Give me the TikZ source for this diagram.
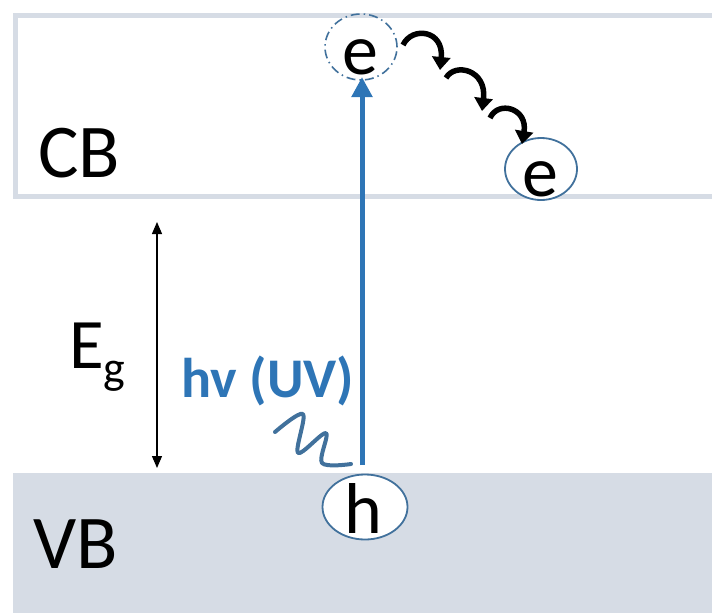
\documentclass[tikz,border=0pt]{standalone}
\usepackage{fontspec}
\setmainfont{Carlito}
\usetikzlibrary{shapes.geometric,arrows.meta}
\definecolor{bandgray}{HTML}{D6DCE5}
\definecolor{arrowblue}{HTML}{2E75B6}
\definecolor{edgeblue}{HTML}{41719C}
\tikzset{
  bigtext/.style={inner sep=0pt, anchor=base west, font=\fontsize{76}{76}\selectfont},
  lettertext/.style={inner sep=0pt, anchor=base, font=\fontsize{72}{72}\selectfont},
  particle/.style={ellipse, draw=edgeblue, line width=1.8pt, fill=white, inner sep=0pt},
  hop/.style={line width=5.5pt, -{Triangle[width=18pt,length=13pt]}},
}
\begin{document}
\begin{tikzpicture}[x=1pt,y=-1pt]
\useasboundingbox (0,0) rectangle (712,613);
% bands
\draw[bandgray, line width=5pt] (712,15) -- (15.5,15) -- (15.5,196) -- (712,196);
\fill[bandgray] (13,473) rectangle (712,613);
\node[bigtext] (cb) at (38,177) {CB};
\node[bigtext] (vb) at (33,568) {VB};
% band gap
\node[inner sep=0pt, anchor=base west, font=\fontsize{71}{71}\selectfont] (eg) at (69,368) {E\raisebox{-15pt}{\fontsize{46}{46}\selectfont g}};
\coordinate (egtop) at (157,222);
\coordinate (egbot) at (157,468);
\draw[line width=1.1pt, {Triangle[width=10pt,length=12pt]}-{Triangle[width=10pt,length=12pt]}] (egtop) -- (egbot);
% particles
\node[particle, minimum width=85pt, minimum height=65pt] (h) at (365,507) {};
\node[lettertext] (ht) at (363,533) {h};
\node[ellipse, draw=edgeblue, line width=1.6pt, dash pattern=on 9pt off 4pt on 1.5pt off 4pt, minimum width=72pt, minimum height=66pt, inner sep=0pt] (e1) at (361,47) {};
\node[lettertext] (e1t) at (360,74) {e};
\node[particle, minimum width=72pt, minimum height=62pt] (e2) at (541,169) {};
\node[lettertext] (e2t) at (540,196) {e};
% excitation
\coordinate (vstart) at (362,465);
\coordinate (vend) at (362,77);
\draw[arrowblue, line width=5pt, -{Triangle[width=20pt,length=20pt]}] (vstart) -- (vend);
\node[inner sep=0pt, anchor=base west, text=arrowblue, font=\bfseries\fontsize{56}{56}\selectfont] (hv) at (181,397) {hv (UV)};
% photon wiggle
\draw[edgeblue, line width=4pt, line cap=round, line join=round] plot[smooth, tension=0.55] coordinates {(275,432) (303,414) (298,453) (326,433) (322,463) (351,464)};
% hopping
\coordinate (c1) at (403,45);
\coordinate (c2) at (440,70);
\coordinate (c3) at (446,78);
\coordinate (c4) at (482,111);
\coordinate (c5) at (490,118);
\coordinate (c6) at (522,144);
\draw[hop] (c1) .. controls (412,26) and (444,30) .. (c2);
\draw[hop] (c3) .. controls (455,62) and (487,70) .. (c4);
\draw[hop] (c5) .. controls (498,100) and (528,108) .. (c6);
\end{tikzpicture}
\end{document}
